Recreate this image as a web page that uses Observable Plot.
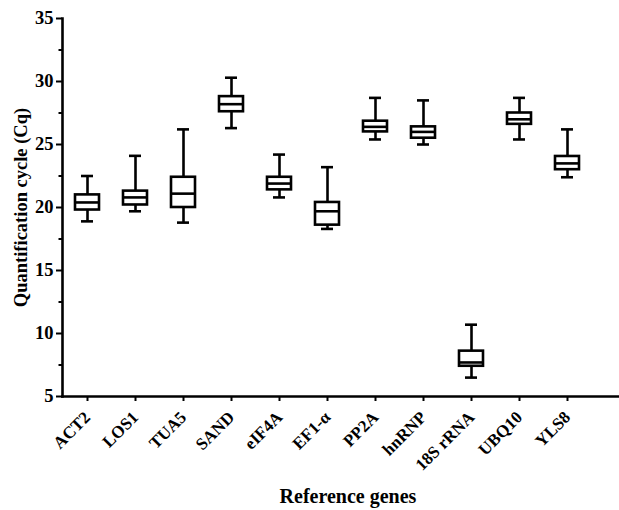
<!DOCTYPE html>
<html>
<head>
<meta charset="utf-8">
<script src="https://cdn.jsdelivr.net/npm/d3@7"></script>
<script src="https://cdn.jsdelivr.net/npm/@observablehq/plot@0.6"></script>
<style>
  html, body { margin: 0; padding: 0; background: #fff; }
  svg text { font-family: "Liberation Serif", "Times New Roman", serif; font-weight: bold; }
</style>
</head>
<body>
<div id="chart"></div>
<script>
const genes = ["ACT2", "LOS1", "TUA5", "SAND", "eIF4A", "EF1-α", "PP2A", "hnRNP", "18S rRNA", "UBQ10", "YLS8"];
const whiskerLow  = [18.9, 19.7, 18.8, 26.3, 20.8, 18.3, 25.4, 25.0, 6.5, 25.4, 22.4];
const boxLow      = [19.8, 20.2, 20.0, 27.6, 21.4, 18.6, 26.0, 25.5, 7.4, 26.6, 23.0];
const medians     = [20.4, 20.8, 21.1, 28.2, 21.9, 19.7, 26.4, 26.0, 7.7, 27.0, 23.5];
const boxHigh     = [21.0, 21.3, 22.4, 28.8, 22.4, 20.4, 26.85, 26.4, 8.6, 27.5, 24.05];
const whiskerHigh = [22.5, 24.1, 26.2, 30.3, 24.2, 23.2, 28.7, 28.5, 10.7, 28.7, 26.2];
const majorTicks = [5, 10, 15, 20, 25, 30, 35];
const minorTicks = [7.5, 12.5, 17.5, 22.5, 27.5, 32.5];

const data = genes.map((g, i) => ({
  gene: g, lo: whiskerLow[i], q1: boxLow[i], med: medians[i], q3: boxHigh[i], hi: whiskerHigh[i]
}));

const sw = 2.6;
const chart = Plot.plot({
  width: 619,
  height: 510,
  marginTop: 18,
  marginLeft: 62,
  marginRight: 0,
  marginBottom: 114,
  style: { fontFamily: "Liberation Serif", fontWeight: "bold", background: "#fff" },
  x: { type: "band", domain: genes, paddingInner: 0.49, paddingOuter: 0.527, align: 0.245 },
  y: { domain: [5, 35] },
  marks: [
    Plot.axisY({
      ticks: majorTicks, tickSize: 6, tickPadding: 3, fontSize: 18.5, strokeWidth: 2,
      label: "Quantification cycle (Cq)", labelAnchor: "center", labelOffset: 49, labelArrow: "none",
      fontWeight: "bold"
    }),
    Plot.axisY({ ticks: minorTicks, tickSize: 3.5, text: null, label: null, strokeWidth: 2 }),
    Plot.axisX({
      tickSize: 5, tickPadding: 13, tickRotate: -45, fontSize: 17, strokeWidth: 2,
      label: null, fontWeight: "bold"
    }),
    Plot.frame({ anchor: "left", strokeWidth: 2.6 }),
    Plot.frame({ anchor: "bottom", strokeWidth: 2.6 }),
    Plot.ruleX(data, { x: "gene", y1: "lo", y2: "hi", strokeWidth: sw }),
    Plot.barY(data, { x: "gene", y1: "q1", y2: "q3", fill: "white", stroke: "black", strokeWidth: sw }),
    Plot.tickY(data, { x: "gene", y: "med", strokeWidth: sw }),
    Plot.tickY(data, { x: "gene", y: "lo", strokeWidth: sw, insetLeft: 6, insetRight: 6 }),
    Plot.tickY(data, { x: "gene", y: "hi", strokeWidth: sw, insetLeft: 6, insetRight: 6 }),
    Plot.text(["Reference genes"], {
      frameAnchor: "bottom", dy: 100, dx: 7, fontSize: 20, fontWeight: "bold", lineAnchor: "middle"
    })
  ]
});
document.getElementById("chart").appendChild(chart);
</script>
</body>
</html>
